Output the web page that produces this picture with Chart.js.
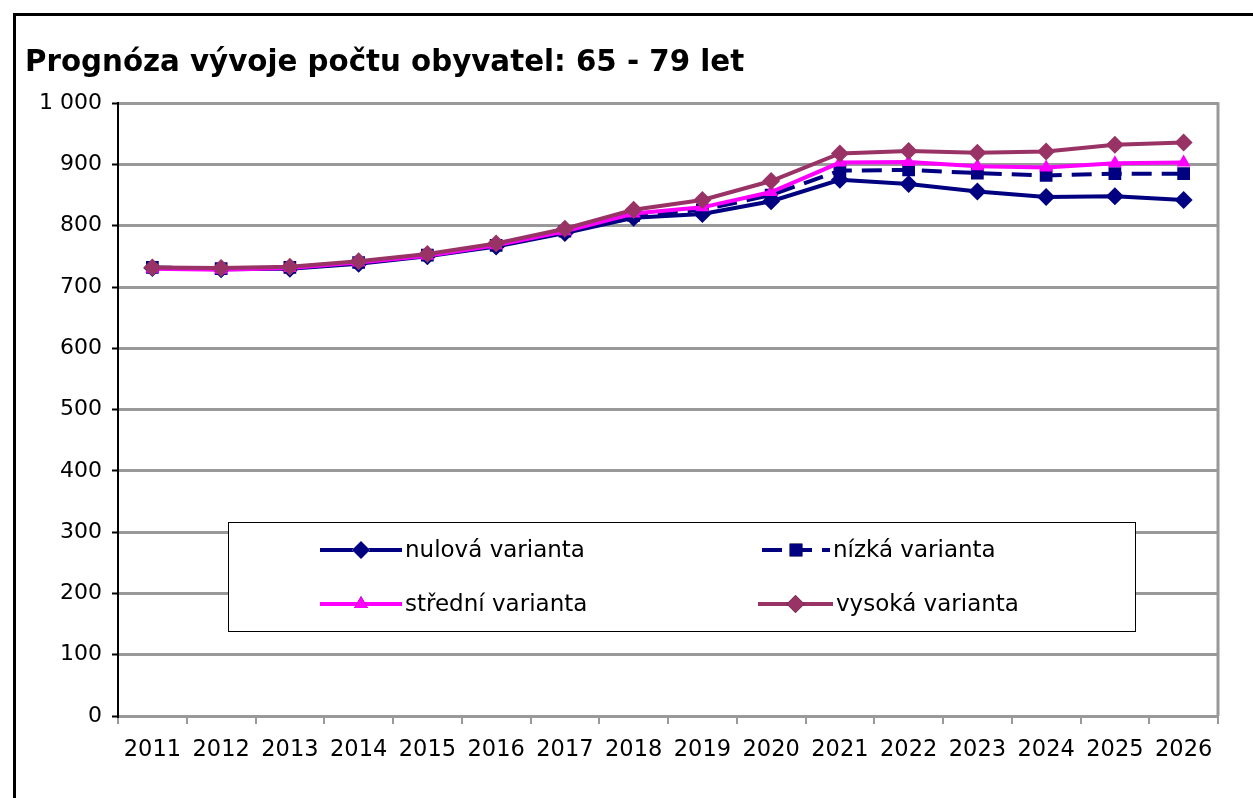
<!DOCTYPE html>
<html>
<head>
<meta charset="utf-8">
<script src="https://cdn.jsdelivr.net/npm/chart.js@4"></script>
<style>
  html, body { margin: 0; padding: 0; background: #fff; }
  #wrap { position: relative; width: 1253px; height: 798px; }
</style>
</head>
<body>
<div id="wrap"><canvas id="graf" width="1253" height="798"></canvas></div>
<script>
const roky = ["2011","2012","2013","2014","2015","2016","2017","2018","2019","2020","2021","2022","2023","2024","2025","2026"];
const nulova  = [731, 729, 730, 738, 750, 766, 788, 813, 819, 840, 875, 868, 856, 847, 848, 842];
const nizka   = [732, 730, 732, 740, 752, 768, 791, 817, 826, 850, 890, 891, 886, 882, 885, 885];
const stredni = [730, 728, 731, 740, 751, 768, 791, 820, 830, 855, 903, 904, 897, 895, 902, 903];
const vysoka  = [732, 731, 733, 742, 754, 771, 795, 826, 842, 873, 918, 922, 919, 921, 932, 936];
const nazvy = ["nulová varianta", "nízká varianta", "střední varianta", "vysoká varianta"];

const FONT = "'DejaVu Sans', Verdana, sans-serif";

// ramecek, prava hrana grafu a vlastni legenda
const ramecek = {
  id: "ramecek",
  beforeDraw(chart) {
    const c = chart.ctx;
    c.save();
    c.fillStyle = "#000";
    c.fillRect(13, 13, 3, 785);
    c.fillRect(13, 13, 1240, 3);
    c.restore();
  },
  afterDatasetsDraw(chart) {
    const c = chart.ctx, a = chart.chartArea;
    c.save();
    c.strokeStyle = "#999";
    c.lineWidth = 3;
    c.beginPath();
    c.moveTo(a.right, a.top - 1);
    c.lineTo(a.right, a.bottom);
    c.stroke();

    // legenda
    c.fillStyle = "#fff";
    c.fillRect(228, 522, 907, 109);
    c.strokeStyle = "#000";
    c.lineWidth = 1;
    c.strokeRect(228.5, 522.5, 907, 109);

    const pozice = [
      { x1: 320, x2: 402, y: 550 },
      { x1: 762, x2: 830, y: 550 },
      { x1: 320, x2: 402, y: 604 },
      { x1: 758, x2: 833, y: 604 }
    ];
    chart.data.datasets.forEach((ds, i) => {
      const p = pozice[i];
      c.strokeStyle = ds.borderColor;
      c.lineWidth = ds.borderWidth;
      c.setLineDash(ds.borderDash || []);
      c.beginPath();
      c.moveTo(p.x1, p.y);
      c.lineTo(p.x2, p.y);
      c.stroke();
      c.setLineDash([]);
      Chart.helpers.drawPoint(c, {
        pointStyle: ds.pointStyle,
        radius: ds.pointRadius,
        rotation: 0,
        borderWidth: 0
      }, (p.x1 + p.x2) / 2, p.y);
      c.fillStyle = ds.pointBackgroundColor;
      c.fill();
      c.fillStyle = "#000";
      c.font = "23px " + FONT;
      c.textBaseline = "middle";
      c.textAlign = "left";
      c.fillText(ds.label, p.x2 + 3, p.y + 1);
    });
    c.restore();
  }
};

new Chart(document.getElementById("graf"), {
  type: "line",
  data: {
    labels: roky,
    datasets: [
      {
        label: nazvy[0], data: nulova, order: 3,
        borderColor: "#000080", borderWidth: 4,
        pointStyle: "rectRot", pointRadius: 9,
        pointBackgroundColor: "#000080", pointBorderWidth: 0
      },
      {
        label: nazvy[1], data: nizka, order: 2,
        borderColor: "#000080", borderWidth: 4, borderDash: [20, 10],
        pointStyle: "rect", pointRadius: 9,
        pointBackgroundColor: "#000080", pointBorderWidth: 0
      },
      {
        label: nazvy[2], data: stredni, order: 1,
        borderColor: "#FF00FF", borderWidth: 4,
        pointStyle: "triangle", pointRadius: 8,
        pointBackgroundColor: "#FF00FF", pointBorderWidth: 0
      },
      {
        label: nazvy[3], data: vysoka, order: 0,
        borderColor: "#993366", borderWidth: 4,
        pointStyle: "rectRot", pointRadius: 9,
        pointBackgroundColor: "#993366", pointBorderWidth: 0
      }
    ]
  },
  options: {
    responsive: false,
    animation: false,
    layout: { padding: { top: 0, left: 25, right: 35, bottom: 0 } },
    plugins: {
      legend: { display: false },
      tooltip: { enabled: false },
      title: {
        display: true,
        text: "Prognóza vývoje počtu obyvatel: 65 - 79 let",
        align: "start",
        color: "#000",
        font: { family: FONT, size: 29.3, weight: "bold" },
        padding: { top: 46, bottom: 22 }
      }
    },
    scales: {
      x: {
        offset: true,
        grid: {
          offset: true, drawOnChartArea: false, drawTicks: true,
          tickLength: 8, color: "#999", lineWidth: 2
        },
        border: { color: "#999", width: 3 },
        ticks: { color: "#000", font: { family: FONT, size: 22.5 }, padding: 13, maxRotation: 0, autoSkip: false },
        afterFit(s) { s.height = 82; }
      },
      y: {
        min: 0, max: 1000,
        grid: { color: "#999", lineWidth: 3, tickLength: 6, tickColor: "#000", tickWidth: 2 },
        border: { color: "#000", width: 2 },
        ticks: {
          stepSize: 100, color: "#000", padding: 10,
          font: { family: FONT, size: 22 },
          callback: v => v >= 1000 ? Math.floor(v / 1000) + " " + String(v % 1000).padStart(3, "0") : String(v)
        },
        afterFit(s) { s.width = 93; }
      }
    }
  },
  plugins: [ramecek]
});
</script>
</body>
</html>
